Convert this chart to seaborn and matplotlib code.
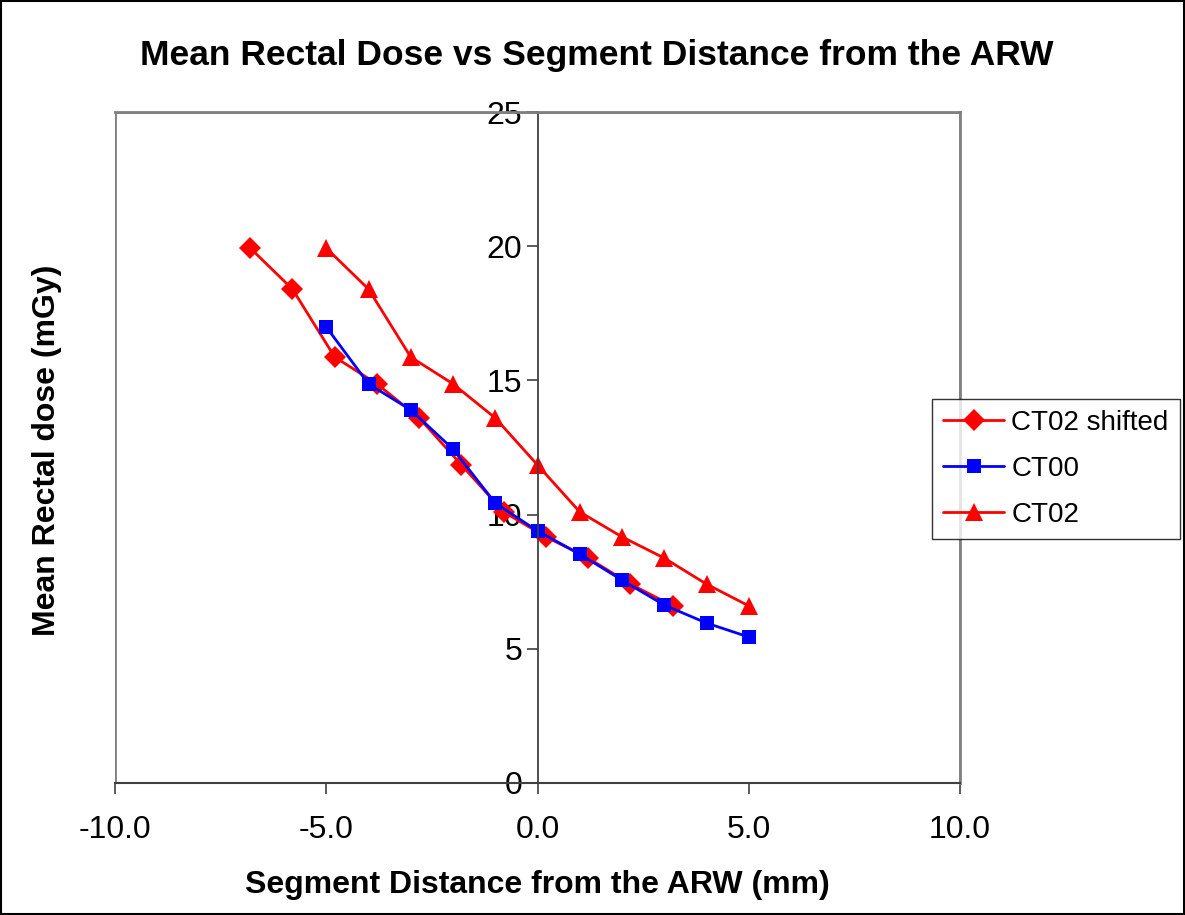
import matplotlib
matplotlib.use('Agg')
import matplotlib.pyplot as plt
import seaborn as sns
import pandas as pd
from matplotlib.patches import Rectangle
from matplotlib.lines import Line2D

# segment positions (mm) and doses (mGy)
seg = [-5, -4, -3, -2, -1, 0, 1, 2, 3, 4, 5]
shift = -1.8
ct00 = [16.99, 14.87, 13.9, 12.44, 10.43, 9.39, 8.53, 7.56, 6.63, 5.96, 5.44]
ct02 = [19.93, 18.4, 15.87, 14.87, 13.6, 11.85, 10.1, 9.17, 8.38, 7.41, 6.6]

df = pd.concat([
    pd.DataFrame({'x': [s + shift for s in seg], 'y': ct02, 'series': 'CT02 shifted'}),
    pd.DataFrame({'x': seg, 'y': ct00, 'series': 'CT00'}),
    pd.DataFrame({'x': seg, 'y': ct02, 'series': 'CT02'}),
])

sns.set_style('white')
plt.rcParams['font.family'] = ['Liberation Sans', 'DejaVu Sans']
plt.rcParams['text.color'] = 'black'
plt.rcParams['axes.labelcolor'] = 'black'
plt.rcParams['xtick.color'] = 'black'
plt.rcParams['ytick.color'] = 'black'

fig = plt.figure(figsize=(11.85, 9.15), dpi=100)
ax = fig.add_axes([115 / 1185, 1 - 783 / 915, 845 / 1185, 671 / 915])

sizes = {'D': 11.5, 's': 10, '^': 13}

sns.lineplot(data=df, x='x', y='y', hue='series', style='series',
             palette={'CT02 shifted': '#ff0000', 'CT00': '#0000ff', 'CT02': '#ff0000'},
             markers={'CT02 shifted': 'D', 'CT00': 's', 'CT02': '^'},
             dashes=False, markersize=10, linewidth=2, markeredgewidth=0,
             sort=False, ax=ax, legend=False)
for line in ax.lines:
    m = line.get_marker()
    if m in sizes:
        line.set_markersize(sizes[m])

ax.set_xlim(-10, 10)
ax.set_ylim(0, 25)
ax.set_xticks([-10, -5, 0, 5, 10])
ax.set_xticklabels(['-10.0', '-5.0', '0.0', '5.0', '10.0'])
ax.set_yticks([0, 5, 10, 15, 20, 25])

for s in ['top', 'right']:
    ax.spines[s].set_color('#808080')
    ax.spines[s].set_linewidth(2)
ax.spines['left'].set_position(('data', 0))
ax.spines['left'].set_color('#404040')
ax.spines['left'].set_linewidth(1.3)
ax.spines['bottom'].set_color('#404040')
ax.spines['bottom'].set_linewidth(1.5)
ax.add_patch(Rectangle((0, 0), 1, 1, transform=ax.transAxes, fill=False,
                       edgecolor='#808080', linewidth=2, zorder=0))

ax.tick_params(axis='both', which='major', labelsize=23, direction='out',
               length=8, width=1.2, color='#404040', labelcolor='black',
               left=True, bottom=True)
ax.tick_params(axis='x', pad=15)
ax.tick_params(axis='y', pad=3)

ax.set_xlabel('Segment Distance from the ARW (mm)', fontsize=23, fontweight='bold', labelpad=18)
ax.set_ylabel('')
fig.text(47 / 1185, 1 - 450 / 915, 'Mean Rectal dose (mGy)', rotation=90,
         fontsize=23, fontweight='bold', ha='center', va='center')
fig.text(597 / 1185, 1 - 55 / 915, 'Mean Rectal Dose vs Segment Distance from the ARW',
         fontsize=25.5, fontweight='bold', ha='center', va='center')

handles = [
    Line2D([], [], color='#ff0000', marker='D', markersize=sizes['D'], lw=2, markeredgewidth=0),
    Line2D([], [], color='#0000ff', marker='s', markersize=sizes['s'], lw=2, markeredgewidth=0),
    Line2D([], [], color='#ff0000', marker='^', markersize=sizes['^'], lw=2, markeredgewidth=0),
]
leg = fig.legend(handles, ['CT02 shifted', 'CT00', 'CT02'], loc='center left',
                 bbox_to_anchor=(932 / 1185, 1 - 469 / 915), borderaxespad=0,
                 fontsize=20, frameon=True, fancybox=False, edgecolor='#000000',
                 handlelength=2.2, handletextpad=0.25, borderpad=0.4, labelspacing=0.72)
leg.get_frame().set_linewidth(1)

fig.patches.append(Rectangle((0.001, 0.001), 0.998, 0.998, transform=fig.transFigure,
                             fill=False, edgecolor='black', linewidth=1.5))

fig.savefig('out.png', dpi=100)
